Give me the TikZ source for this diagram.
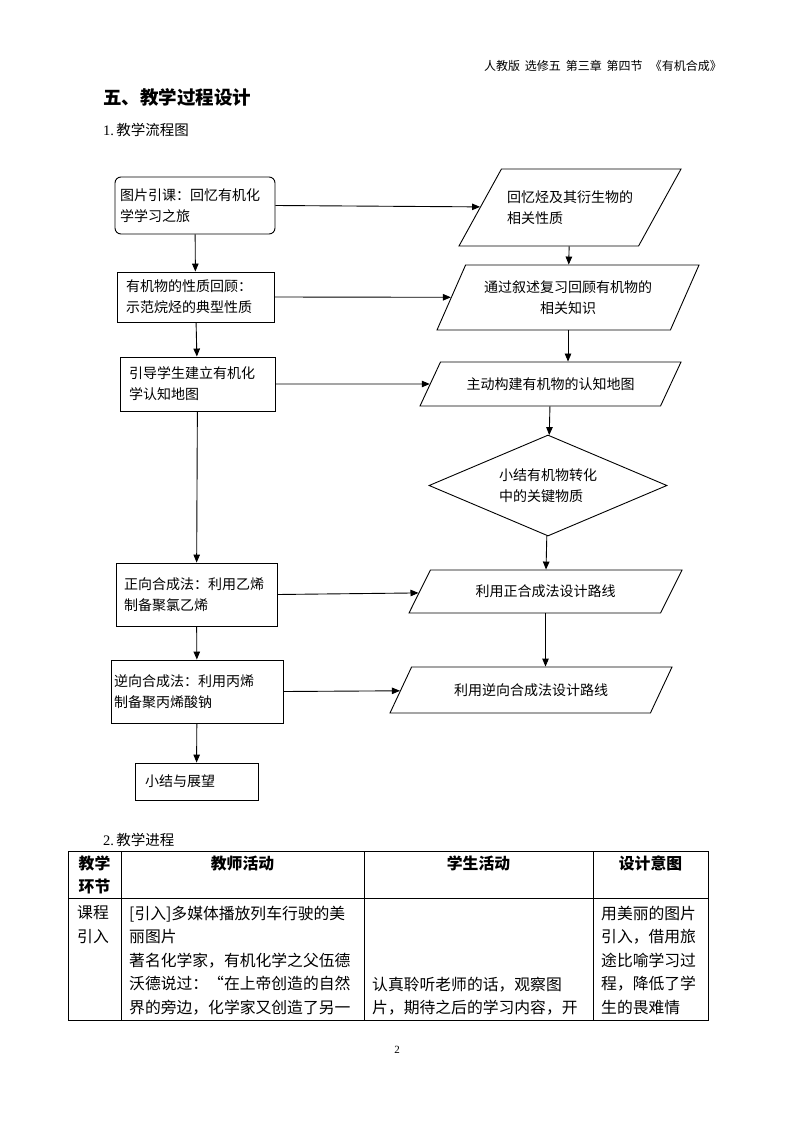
\documentclass[tikz,border=0pt]{standalone}
\usepackage{fontspec}
\setmainfont{Liberation Serif}
\newfontfamily\cjk{Noto Sans CJK SC}
\usetikzlibrary{shapes.geometric,arrows.meta}
\tikzset{
  fc/.style={font=\cjk\fontsize{14}{21}\selectfont},
  box/.style={fc,draw,line width=0.9pt,align=left,inner ysep=2pt},
  para/.style={fc,draw,line width=0.9pt,align=left,trapezium,trapezium stretches body,inner xsep=2pt},
  arr/.style={-{Triangle[length=8pt,width=6.5pt]},line width=0.9pt},
  tbl/.style={line width=0.9pt},
  tc/.style={font=\cjk\fontsize{15.8}{23.5}\selectfont,inner sep=0pt,align=left,anchor=north west},
  th/.style={font=\cjk\bfseries\fontsize{15.8}{23.5}\selectfont,inner sep=0pt,align=center,anchor=north}
}
\begin{document}
\begin{tikzpicture}[x=1pt,y=-1pt]
\path[fill=white,use as bounding box] (0,0) rectangle (794,1123);

% header and titles
\node[font=\cjk\fontsize{12}{13}\selectfont,anchor=east,inner sep=0pt] (hdr) at (722,66) {人教版\hspace{0.4em}选修五\hspace{0.4em}第三章\hspace{0.4em}第四节\hspace{0.6em}《有机合成》};
\node[font=\cjk\bfseries\fontsize{18.5}{20}\selectfont,anchor=west,inner sep=0pt] (title) at (103,97) {五、教学过程设计};
\node[anchor=west,inner sep=0pt] (sub1) at (103,130) {\fontsize{14.5}{16}\selectfont 1.\,{\cjk 教学流程图}};

% flowchart left column
\node[box,rounded corners=6pt,minimum width=160pt,minimum height=57pt,inner xsep=5pt,text width=150pt] (b1) at (195,205.5) {图片引课：回忆有机化\\学学习之旅};
\node[box,minimum width=157pt,minimum height=50pt,inner xsep=9pt,text width=139pt] (b2) at (195.5,297) {有机物的性质回顾：\\示范烷烃的典型性质};
\node[box,minimum width=155pt,minimum height=54pt,inner xsep=9pt,text width=137pt] (b3) at (197.5,384) {引导学生建立有机化\\学认知地图};
\node[box,minimum width=161pt,minimum height=63pt,inner xsep=8pt,text width=145pt] (b4) at (196.5,594.5) {正向合成法：利用乙烯\\制备聚氯乙烯};
\node[box,minimum width=172pt,minimum height=63pt,inner xsep=3pt,text width=166pt] (b5) at (197,691.5) {逆向合成法：利用丙烯\\制备聚丙烯酸钠};
\node[box,minimum width=123pt,minimum height=37pt,inner xsep=10pt,text width=103pt] (b6) at (196.5,781.5) {小结与展望};

% flowchart right column
\node[para,inner ysep=21pt,trapezium left angle=60.8,trapezium right angle=119.2,minimum width=222pt,minimum height=77pt] (p1) at (570,207.5) {回忆烃及其衍生物的\\相关性质};
\node[para,inner ysep=15pt,align=center,trapezium left angle=65.9,trapezium right angle=114.1,minimum width=262pt,minimum height=65pt] (p2) at (568,297.5) {通过叙述复习回顾有机物的\\相关知识};
\node[para,inner ysep=15pt,align=center,trapezium left angle=64.5,trapezium right angle=115.5,minimum width=261pt,minimum height=44pt] (p3) at (550.5,384) {主动构建有机物的认知地图};
\node[fc,draw,line width=0.9pt,diamond,aspect=2.36,align=left,inner sep=1pt,minimum width=238pt,minimum height=101pt] (dm) at (548,485.5) {小结有机物转化\\中的关键物质};
\node[para,inner ysep=14.5pt,align=center,trapezium left angle=63,trapezium right angle=117,minimum width=273pt,minimum height=43pt] (p4) at (545.5,591.5) {利用正合成法设计路线};
\node[para,inner ysep=16pt,align=center,trapezium left angle=64.4,trapezium right angle=115.6,minimum width=282pt,minimum height=46pt] (p5) at (531,690) {利用逆向合成法设计路线};

% connectors
\draw[arr] (b1.east) -- (p1);
\draw[arr] (b1) -- (b2);
\draw[arr] (p1) -- (p2);
\draw[arr] (b2.east) -- (p2);
\draw[arr] (b2) -- (b3);
\draw[arr] (p2.south) -- (p2.south |- p3.north);
\draw[arr] (b3.east) -- (p3);
\draw[arr] (p3) -- (dm);
\draw[arr] (dm) -- (p4);
\draw[arr] (b3) -- (b4);
\draw[arr] (b4.east) -- (p4);
\draw[arr] (p4.south) -- (p4.south |- p5.north);
\draw[arr] (b4) -- (b5);
\draw[arr] (b5.east) -- (p5);
\draw[arr] (b5) -- (b6);

% table
\node[anchor=west,inner sep=0pt] (sub2) at (103,840) {\fontsize{14.5}{16}\selectfont 2.\,{\cjk 教学进程}};
\draw[tbl] (68,851) rectangle (708,1020);
\draw[tbl] (121,851) -- (121,1020) (364,851) -- (364,1020) (593,851) -- (593,1020);
\draw[tbl] (68,898) -- (708,898);

\node[th] (h1) at (94.5,855.5) {教学\\环节};
\node[th] (h2) at (242.5,855.5) {教师活动};
\node[th] (h3) at (478.5,855.5) {学生活动};
\node[th] (h4) at (650.5,855.5) {设计意图};

\node[tc] (c1) at (77,905.5) {课程\\引入};
\node[tc] (c2) at (129,905.5) {[引入]多媒体播放列车行驶的美\\丽图片\\著名化学家，有机化学之父伍德\\沃德说过：“在上帝创造的自然\\界的旁边，化学家又创造了另一};
\node[tc] (c3) at (372,976.5) {认真聆听老师的话，观察图\\片，期待之后的学习内容，开};
\node[tc] (c4) at (601,905.5) {用美丽的图片\\引入，借用旅\\途比喻学习过\\程，降低了学\\生的畏难情};

\node[inner sep=0pt,font=\fontsize{11}{12}\selectfont] (pg) at (397,1050) {2};
\end{tikzpicture}
\end{document}
